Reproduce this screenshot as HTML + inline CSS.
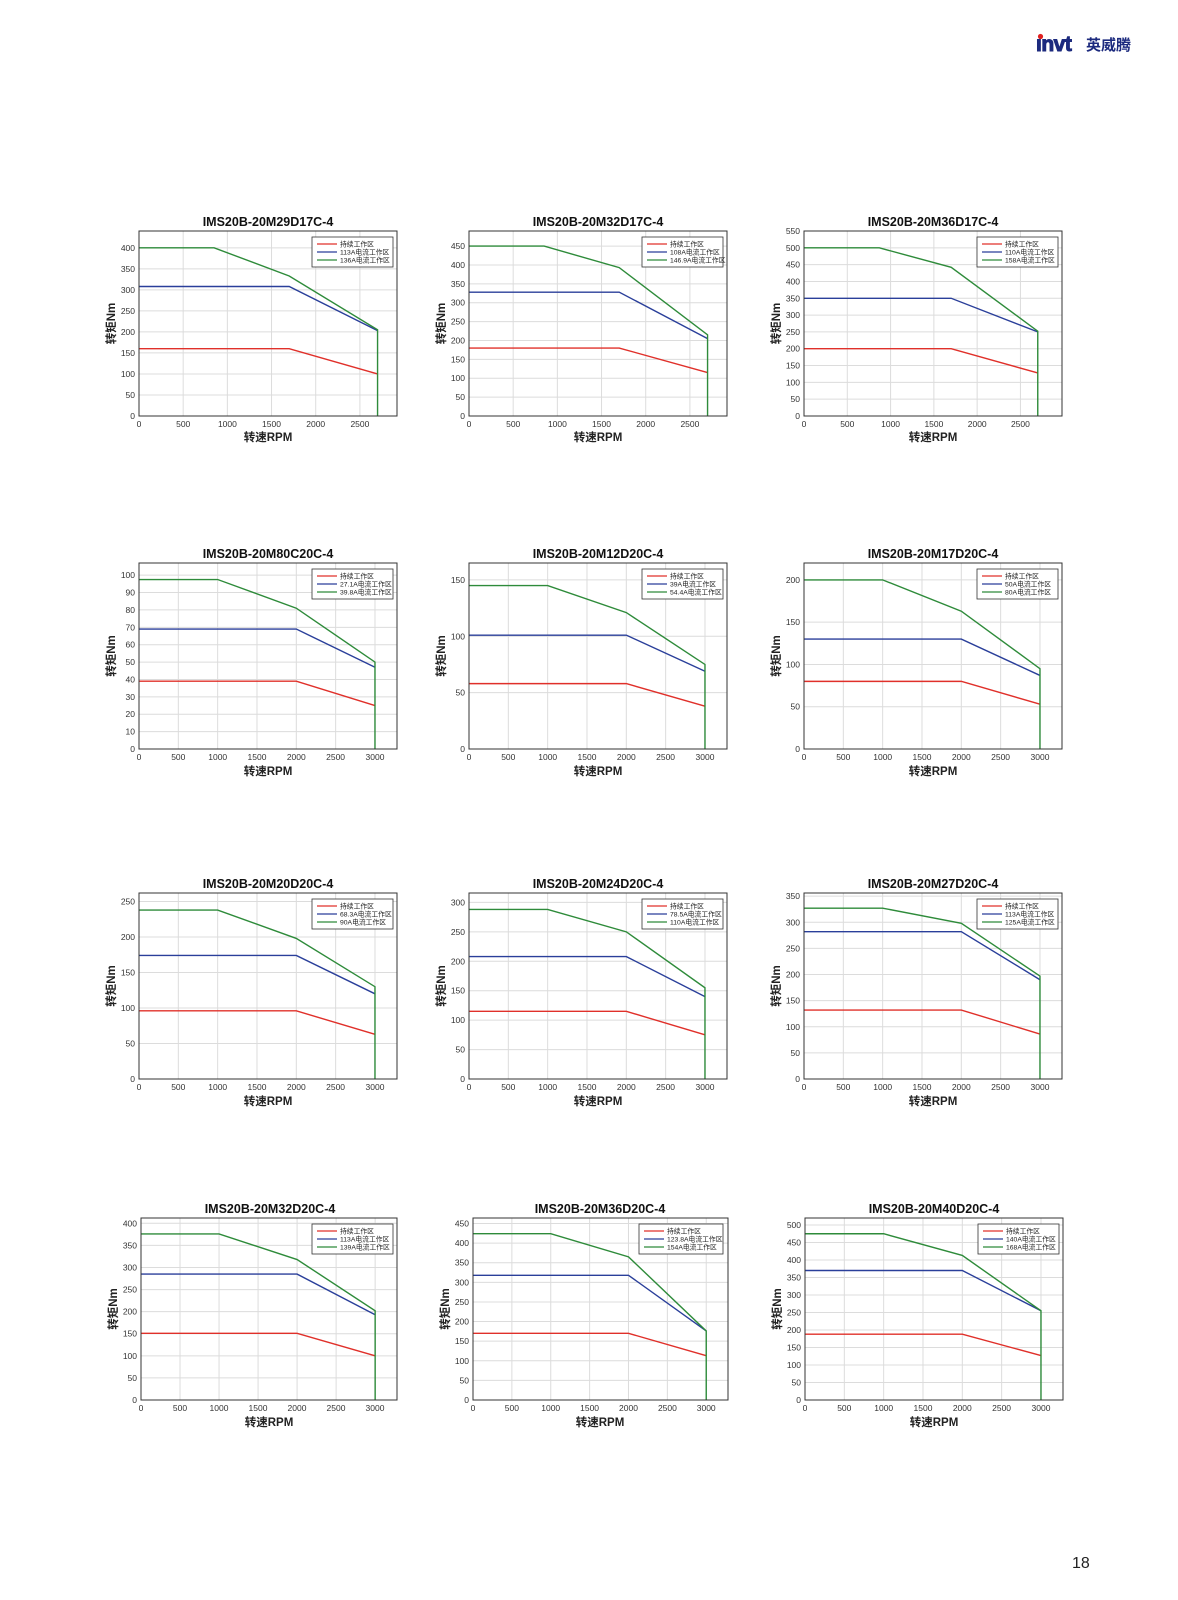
<!DOCTYPE html>
<html><head><meta charset="utf-8"><style>
html,body{margin:0;padding:0;background:#fff;}
svg{display:block;font-family:"Liberation Sans","Noto Sans CJK SC",sans-serif;}
.t{font-size:12.5px;font-weight:bold;fill:#111;text-anchor:middle}
.yl text{font-size:8.5px;fill:#333;text-anchor:end}
.xl text{font-size:8.5px;fill:#333;text-anchor:middle}
.ax{font-size:11.5px;font-weight:bold;fill:#222;text-anchor:middle}
.lg{font-size:6.8px;fill:#222}
.g{fill:none;stroke:#dcdcdc;stroke-width:1;vector-effect:non-scaling-stroke}
.r{fill:none;stroke:#e0302a;stroke-width:1.4;vector-effect:non-scaling-stroke}
.b{fill:none;stroke:#2a3f9a;stroke-width:1.4;vector-effect:non-scaling-stroke}
.gr{fill:none;stroke:#2e8b3a;stroke-width:1.4;vector-effect:non-scaling-stroke}
.box{fill:none;stroke:#333;stroke-width:1}
</style></head><body>
<svg width="1178" height="1600" viewBox="0 0 1178 1600">
<rect width="1178" height="1600" fill="#fff"/>
<!-- logo -->
<text x="1036" y="51" style="font-size:21px;font-weight:bold;fill:#1c2a7e;letter-spacing:-0.5px;stroke:#1c2a7e;stroke-width:1">ınvt</text>
<circle cx="1040.5" cy="36.5" r="2.6" fill="#e02020"/>
<text x="1086" y="50" style="font-size:15px;font-weight:bold;fill:#1c2a7e">英威腾</text>
<text x="1072" y="1568" style="font-size:16px;fill:#222">18</text>

<!-- Chart 1 -->
<g transform="translate(139,231)">
<text class="t" x="129" y="-5">IMS20B-20M29D17C-4</text>
<svg width="258" height="185" viewBox="0 -440 2920 440" preserveAspectRatio="none" overflow="visible">
<path class="g" d="M500,0V-440M1000,0V-440M1500,0V-440M2000,0V-440M2500,0V-440M0,-50H2920M0,-100H2920M0,-150H2920M0,-200H2920M0,-250H2920M0,-300H2920M0,-350H2920M0,-400H2920"/>
<polyline class="r" points="0,-160 1700,-160 2700,-100"/>
<polyline class="b" points="0,-308 1700,-308 2700,-203"/>
<polyline class="gr" points="0,-400 850,-400 1700,-333 2700,-205 2700,0"/>
</svg>
<rect class="box" x="0" y="0" width="258" height="185"/>
<g class="yl"><text x="-4" y="188">0</text><text x="-4" y="167">50</text><text x="-4" y="146">100</text><text x="-4" y="125">150</text><text x="-4" y="104">200</text><text x="-4" y="83">250</text><text x="-4" y="62">300</text><text x="-4" y="41">350</text><text x="-4" y="20">400</text></g>
<g class="xl"><text x="0" y="196">0</text><text x="44.2" y="196">500</text><text x="88.4" y="196">1000</text><text x="132.5" y="196">1500</text><text x="176.7" y="196">2000</text><text x="220.9" y="196">2500</text></g>
<text class="ax" x="129" y="210">转速RPM</text>
<text class="ax" transform="translate(-24,92.5) rotate(-90)">转矩Nm</text>
<rect x="173" y="6" width="81" height="30" fill="#fff" stroke="#333" stroke-width="0.8"/>
<line x1="178" y1="13" x2="198" y2="13" stroke="#e0302a" stroke-width="1.3"/><text class="lg" x="201" y="15.5">持续工作区</text>
<line x1="178" y1="21" x2="198" y2="21" stroke="#2a3f9a" stroke-width="1.3"/><text class="lg" x="201" y="23.5">113A电流工作区</text>
<line x1="178" y1="29" x2="198" y2="29" stroke="#2e8b3a" stroke-width="1.3"/><text class="lg" x="201" y="31.5">136A电流工作区</text>
</g>

<!-- Chart 2 -->
<g transform="translate(469,231)">
<text class="t" x="129" y="-5">IMS20B-20M32D17C-4</text>
<svg width="258" height="185" viewBox="0 -490 2920 490" preserveAspectRatio="none" overflow="visible">
<path class="g" d="M500,0V-490M1000,0V-490M1500,0V-490M2000,0V-490M2500,0V-490M0,-50H2920M0,-100H2920M0,-150H2920M0,-200H2920M0,-250H2920M0,-300H2920M0,-350H2920M0,-400H2920M0,-450H2920"/>
<polyline class="r" points="0,-180 1700,-180 2700,-115"/>
<polyline class="b" points="0,-328 1700,-328 2700,-205"/>
<polyline class="gr" points="0,-450 850,-450 1700,-393 2700,-215 2700,0"/>
</svg>
<rect class="box" x="0" y="0" width="258" height="185"/>
<g class="yl"><text x="-4" y="188">0</text><text x="-4" y="169.1">50</text><text x="-4" y="150.2">100</text><text x="-4" y="131.4">150</text><text x="-4" y="112.5">200</text><text x="-4" y="93.6">250</text><text x="-4" y="74.7">300</text><text x="-4" y="55.9">350</text><text x="-4" y="37">400</text><text x="-4" y="18.1">450</text></g>
<g class="xl"><text x="0" y="196">0</text><text x="44.2" y="196">500</text><text x="88.4" y="196">1000</text><text x="132.5" y="196">1500</text><text x="176.7" y="196">2000</text><text x="220.9" y="196">2500</text></g>
<text class="ax" x="129" y="210">转速RPM</text>
<text class="ax" transform="translate(-24,92.5) rotate(-90)">转矩Nm</text>
<rect x="173" y="6" width="81" height="30" fill="#fff" stroke="#333" stroke-width="0.8"/>
<line x1="178" y1="13" x2="198" y2="13" stroke="#e0302a" stroke-width="1.3"/><text class="lg" x="201" y="15.5">持续工作区</text>
<line x1="178" y1="21" x2="198" y2="21" stroke="#2a3f9a" stroke-width="1.3"/><text class="lg" x="201" y="23.5">108A电流工作区</text>
<line x1="178" y1="29" x2="198" y2="29" stroke="#2e8b3a" stroke-width="1.3"/><text class="lg" x="201" y="31.5">146.9A电流工作区</text>
</g>

<!-- Chart 3 -->
<g transform="translate(804,231)">
<text class="t" x="129" y="-5">IMS20B-20M36D17C-4</text>
<svg width="258" height="185" viewBox="0 -550 2980 550" preserveAspectRatio="none" overflow="visible">
<path class="g" d="M500,0V-550M1000,0V-550M1500,0V-550M2000,0V-550M2500,0V-550M0,-50H2980M0,-100H2980M0,-150H2980M0,-200H2980M0,-250H2980M0,-300H2980M0,-350H2980M0,-400H2980M0,-450H2980M0,-500H2980"/>
<polyline class="r" points="0,-200 1700,-200 2700,-128"/>
<polyline class="b" points="0,-350 1700,-350 2700,-250"/>
<polyline class="gr" points="0,-500 870,-500 1700,-442 2700,-252 2700,0"/>
</svg>
<rect class="box" x="0" y="0" width="258" height="185"/>
<g class="yl"><text x="-4" y="188">0</text><text x="-4" y="171.2">50</text><text x="-4" y="154.4">100</text><text x="-4" y="137.5">150</text><text x="-4" y="120.7">200</text><text x="-4" y="103.9">250</text><text x="-4" y="87.1">300</text><text x="-4" y="70.3">350</text><text x="-4" y="53.5">400</text><text x="-4" y="36.6">450</text><text x="-4" y="19.8">500</text><text x="-4" y="3">550</text></g>
<g class="xl"><text x="0" y="196">0</text><text x="43.3" y="196">500</text><text x="86.6" y="196">1000</text><text x="129.9" y="196">1500</text><text x="173.2" y="196">2000</text><text x="216.4" y="196">2500</text></g>
<text class="ax" x="129" y="210">转速RPM</text>
<text class="ax" transform="translate(-24,92.5) rotate(-90)">转矩Nm</text>
<rect x="173" y="6" width="81" height="30" fill="#fff" stroke="#333" stroke-width="0.8"/>
<line x1="178" y1="13" x2="198" y2="13" stroke="#e0302a" stroke-width="1.3"/><text class="lg" x="201" y="15.5">持续工作区</text>
<line x1="178" y1="21" x2="198" y2="21" stroke="#2a3f9a" stroke-width="1.3"/><text class="lg" x="201" y="23.5">110A电流工作区</text>
<line x1="178" y1="29" x2="198" y2="29" stroke="#2e8b3a" stroke-width="1.3"/><text class="lg" x="201" y="31.5">158A电流工作区</text>
</g>

<!-- Chart 4 -->
<g transform="translate(139,563)">
<text class="t" x="129" y="-5">IMS20B-20M80C20C-4</text>
<svg width="258" height="186" viewBox="0 -107 3280 107" preserveAspectRatio="none" overflow="visible">
<path class="g" d="M500,0V-107M1000,0V-107M1500,0V-107M2000,0V-107M2500,0V-107M3000,0V-107M0,-10H3280M0,-20H3280M0,-30H3280M0,-40H3280M0,-50H3280M0,-60H3280M0,-70H3280M0,-80H3280M0,-90H3280M0,-100H3280"/>
<polyline class="r" points="0,-39 2000,-39 3000,-25"/>
<polyline class="b" points="0,-69 2000,-69 3000,-47"/>
<polyline class="gr" points="0,-97.5 1000,-97.5 2000,-81 3000,-50 3000,0"/>
</svg>
<rect class="box" x="0" y="0" width="258" height="186"/>
<g class="yl"><text x="-4" y="189">0</text><text x="-4" y="171.6">10</text><text x="-4" y="154.2">20</text><text x="-4" y="136.9">30</text><text x="-4" y="119.5">40</text><text x="-4" y="102.1">50</text><text x="-4" y="84.7">60</text><text x="-4" y="67.3">70</text><text x="-4" y="50">80</text><text x="-4" y="32.6">90</text><text x="-4" y="15.2">100</text></g>
<g class="xl"><text x="0" y="197">0</text><text x="39.3" y="197">500</text><text x="78.7" y="197">1000</text><text x="118" y="197">1500</text><text x="157.3" y="197">2000</text><text x="196.6" y="197">2500</text><text x="236" y="197">3000</text></g>
<text class="ax" x="129" y="212">转速RPM</text>
<text class="ax" transform="translate(-24,93) rotate(-90)">转矩Nm</text>
<rect x="173" y="6" width="81" height="30" fill="#fff" stroke="#333" stroke-width="0.8"/>
<line x1="178" y1="13" x2="198" y2="13" stroke="#e0302a" stroke-width="1.3"/><text class="lg" x="201" y="15.5">持续工作区</text>
<line x1="178" y1="21" x2="198" y2="21" stroke="#2a3f9a" stroke-width="1.3"/><text class="lg" x="201" y="23.5">27.1A电流工作区</text>
<line x1="178" y1="29" x2="198" y2="29" stroke="#2e8b3a" stroke-width="1.3"/><text class="lg" x="201" y="31.5">39.8A电流工作区</text>
</g>

<!-- Chart 5 -->
<g transform="translate(469,563)">
<text class="t" x="129" y="-5">IMS20B-20M12D20C-4</text>
<svg width="258" height="186" viewBox="0 -165 3280 165" preserveAspectRatio="none" overflow="visible">
<path class="g" d="M500,0V-165M1000,0V-165M1500,0V-165M2000,0V-165M2500,0V-165M3000,0V-165M0,-50H3280M0,-100H3280M0,-150H3280"/>
<polyline class="r" points="0,-58 2000,-58 3000,-38"/>
<polyline class="b" points="0,-101 2000,-101 3000,-69"/>
<polyline class="gr" points="0,-145 1000,-145 2000,-121 3000,-75 3000,0"/>
</svg>
<rect class="box" x="0" y="0" width="258" height="186"/>
<g class="yl"><text x="-4" y="189">0</text><text x="-4" y="132.6">50</text><text x="-4" y="76.3">100</text><text x="-4" y="19.9">150</text></g>
<g class="xl"><text x="0" y="197">0</text><text x="39.3" y="197">500</text><text x="78.7" y="197">1000</text><text x="118" y="197">1500</text><text x="157.3" y="197">2000</text><text x="196.6" y="197">2500</text><text x="236" y="197">3000</text></g>
<text class="ax" x="129" y="212">转速RPM</text>
<text class="ax" transform="translate(-24,93) rotate(-90)">转矩Nm</text>
<rect x="173" y="6" width="81" height="30" fill="#fff" stroke="#333" stroke-width="0.8"/>
<line x1="178" y1="13" x2="198" y2="13" stroke="#e0302a" stroke-width="1.3"/><text class="lg" x="201" y="15.5">持续工作区</text>
<line x1="178" y1="21" x2="198" y2="21" stroke="#2a3f9a" stroke-width="1.3"/><text class="lg" x="201" y="23.5">39A电流工作区</text>
<line x1="178" y1="29" x2="198" y2="29" stroke="#2e8b3a" stroke-width="1.3"/><text class="lg" x="201" y="31.5">54.4A电流工作区</text>
</g>

<!-- Chart 6 -->
<g transform="translate(804,563)">
<text class="t" x="129" y="-5">IMS20B-20M17D20C-4</text>
<svg width="258" height="186" viewBox="0 -220 3280 220" preserveAspectRatio="none" overflow="visible">
<path class="g" d="M500,0V-220M1000,0V-220M1500,0V-220M2000,0V-220M2500,0V-220M3000,0V-220M0,-50H3280M0,-100H3280M0,-150H3280M0,-200H3280"/>
<polyline class="r" points="0,-80 2000,-80 3000,-53"/>
<polyline class="b" points="0,-130 2000,-130 3000,-87"/>
<polyline class="gr" points="0,-200 1000,-200 2000,-163 3000,-95 3000,0"/>
</svg>
<rect class="box" x="0" y="0" width="258" height="186"/>
<g class="yl"><text x="-4" y="189">0</text><text x="-4" y="146.7">50</text><text x="-4" y="104.5">100</text><text x="-4" y="62.2">150</text><text x="-4" y="19.9">200</text></g>
<g class="xl"><text x="0" y="197">0</text><text x="39.3" y="197">500</text><text x="78.7" y="197">1000</text><text x="118" y="197">1500</text><text x="157.3" y="197">2000</text><text x="196.6" y="197">2500</text><text x="236" y="197">3000</text></g>
<text class="ax" x="129" y="212">转速RPM</text>
<text class="ax" transform="translate(-24,93) rotate(-90)">转矩Nm</text>
<rect x="173" y="6" width="81" height="30" fill="#fff" stroke="#333" stroke-width="0.8"/>
<line x1="178" y1="13" x2="198" y2="13" stroke="#e0302a" stroke-width="1.3"/><text class="lg" x="201" y="15.5">持续工作区</text>
<line x1="178" y1="21" x2="198" y2="21" stroke="#2a3f9a" stroke-width="1.3"/><text class="lg" x="201" y="23.5">50A电流工作区</text>
<line x1="178" y1="29" x2="198" y2="29" stroke="#2e8b3a" stroke-width="1.3"/><text class="lg" x="201" y="31.5">80A电流工作区</text>
</g>

<!-- Chart 7 -->
<g transform="translate(139,893)">
<text class="t" x="129" y="-5">IMS20B-20M20D20C-4</text>
<svg width="258" height="186" viewBox="0 -262 3280 262" preserveAspectRatio="none" overflow="visible">
<path class="g" d="M500,0V-262M1000,0V-262M1500,0V-262M2000,0V-262M2500,0V-262M3000,0V-262M0,-50H3280M0,-100H3280M0,-150H3280M0,-200H3280M0,-250H3280"/>
<polyline class="r" points="0,-96 2000,-96 3000,-63"/>
<polyline class="b" points="0,-174 2000,-174 3000,-120"/>
<polyline class="gr" points="0,-238 1000,-238 2000,-198 3000,-130 3000,0"/>
</svg>
<rect class="box" x="0" y="0" width="258" height="186"/>
<g class="yl"><text x="-4" y="189">0</text><text x="-4" y="153.5">50</text><text x="-4" y="118">100</text><text x="-4" y="82.5">150</text><text x="-4" y="47">200</text><text x="-4" y="11.5">250</text></g>
<g class="xl"><text x="0" y="197">0</text><text x="39.3" y="197">500</text><text x="78.7" y="197">1000</text><text x="118" y="197">1500</text><text x="157.3" y="197">2000</text><text x="196.6" y="197">2500</text><text x="236" y="197">3000</text></g>
<text class="ax" x="129" y="212">转速RPM</text>
<text class="ax" transform="translate(-24,93) rotate(-90)">转矩Nm</text>
<rect x="173" y="6" width="81" height="30" fill="#fff" stroke="#333" stroke-width="0.8"/>
<line x1="178" y1="13" x2="198" y2="13" stroke="#e0302a" stroke-width="1.3"/><text class="lg" x="201" y="15.5">持续工作区</text>
<line x1="178" y1="21" x2="198" y2="21" stroke="#2a3f9a" stroke-width="1.3"/><text class="lg" x="201" y="23.5">68.3A电流工作区</text>
<line x1="178" y1="29" x2="198" y2="29" stroke="#2e8b3a" stroke-width="1.3"/><text class="lg" x="201" y="31.5">90A电流工作区</text>
</g>

<!-- Chart 8 -->
<g transform="translate(469,893)">
<text class="t" x="129" y="-5">IMS20B-20M24D20C-4</text>
<svg width="258" height="186" viewBox="0 -316 3280 316" preserveAspectRatio="none" overflow="visible">
<path class="g" d="M500,0V-316M1000,0V-316M1500,0V-316M2000,0V-316M2500,0V-316M3000,0V-316M0,-50H3280M0,-100H3280M0,-150H3280M0,-200H3280M0,-250H3280M0,-300H3280"/>
<polyline class="r" points="0,-115 2000,-115 3000,-75"/>
<polyline class="b" points="0,-208 2000,-208 3000,-140"/>
<polyline class="gr" points="0,-288 1000,-288 2000,-250 3000,-155 3000,0"/>
</svg>
<rect class="box" x="0" y="0" width="258" height="186"/>
<g class="yl"><text x="-4" y="189">0</text><text x="-4" y="159.6">50</text><text x="-4" y="130.1">100</text><text x="-4" y="100.7">150</text><text x="-4" y="71.3">200</text><text x="-4" y="41.8">250</text><text x="-4" y="12.4">300</text></g>
<g class="xl"><text x="0" y="197">0</text><text x="39.3" y="197">500</text><text x="78.7" y="197">1000</text><text x="118" y="197">1500</text><text x="157.3" y="197">2000</text><text x="196.6" y="197">2500</text><text x="236" y="197">3000</text></g>
<text class="ax" x="129" y="212">转速RPM</text>
<text class="ax" transform="translate(-24,93) rotate(-90)">转矩Nm</text>
<rect x="173" y="6" width="81" height="30" fill="#fff" stroke="#333" stroke-width="0.8"/>
<line x1="178" y1="13" x2="198" y2="13" stroke="#e0302a" stroke-width="1.3"/><text class="lg" x="201" y="15.5">持续工作区</text>
<line x1="178" y1="21" x2="198" y2="21" stroke="#2a3f9a" stroke-width="1.3"/><text class="lg" x="201" y="23.5">78.5A电流工作区</text>
<line x1="178" y1="29" x2="198" y2="29" stroke="#2e8b3a" stroke-width="1.3"/><text class="lg" x="201" y="31.5">110A电流工作区</text>
</g>

<!-- Chart 9 -->
<g transform="translate(804,893)">
<text class="t" x="129" y="-5">IMS20B-20M27D20C-4</text>
<svg width="258" height="186" viewBox="0 -356 3280 356" preserveAspectRatio="none" overflow="visible">
<path class="g" d="M500,0V-356M1000,0V-356M1500,0V-356M2000,0V-356M2500,0V-356M3000,0V-356M0,-50H3280M0,-100H3280M0,-150H3280M0,-200H3280M0,-250H3280M0,-300H3280M0,-350H3280"/>
<polyline class="r" points="0,-132 2000,-132 3000,-86"/>
<polyline class="b" points="0,-282 2000,-282 3000,-190"/>
<polyline class="gr" points="0,-327 1000,-327 2000,-298 3000,-197 3000,0"/>
</svg>
<rect class="box" x="0" y="0" width="258" height="186"/>
<g class="yl"><text x="-4" y="189">0</text><text x="-4" y="162.9">50</text><text x="-4" y="136.8">100</text><text x="-4" y="110.6">150</text><text x="-4" y="84.5">200</text><text x="-4" y="58.4">250</text><text x="-4" y="32.3">300</text><text x="-4" y="6.1">350</text></g>
<g class="xl"><text x="0" y="197">0</text><text x="39.3" y="197">500</text><text x="78.7" y="197">1000</text><text x="118" y="197">1500</text><text x="157.3" y="197">2000</text><text x="196.6" y="197">2500</text><text x="236" y="197">3000</text></g>
<text class="ax" x="129" y="212">转速RPM</text>
<text class="ax" transform="translate(-24,93) rotate(-90)">转矩Nm</text>
<rect x="173" y="6" width="81" height="30" fill="#fff" stroke="#333" stroke-width="0.8"/>
<line x1="178" y1="13" x2="198" y2="13" stroke="#e0302a" stroke-width="1.3"/><text class="lg" x="201" y="15.5">持续工作区</text>
<line x1="178" y1="21" x2="198" y2="21" stroke="#2a3f9a" stroke-width="1.3"/><text class="lg" x="201" y="23.5">113A电流工作区</text>
<line x1="178" y1="29" x2="198" y2="29" stroke="#2e8b3a" stroke-width="1.3"/><text class="lg" x="201" y="31.5">125A电流工作区</text>
</g>

<!-- Chart 10 -->
<g transform="translate(141,1218)">
<text class="t" x="129" y="-5">IMS20B-20M32D20C-4</text>
<svg width="256" height="182" viewBox="0 -412 3280 412" preserveAspectRatio="none" overflow="visible">
<path class="g" d="M500,0V-412M1000,0V-412M1500,0V-412M2000,0V-412M2500,0V-412M3000,0V-412M0,-50H3280M0,-100H3280M0,-150H3280M0,-200H3280M0,-250H3280M0,-300H3280M0,-350H3280M0,-400H3280"/>
<polyline class="r" points="0,-151 2000,-151 3000,-100"/>
<polyline class="b" points="0,-285 2000,-285 3000,-193"/>
<polyline class="gr" points="0,-376 1000,-376 2000,-318 3000,-202 3000,0"/>
</svg>
<rect class="box" x="0" y="0" width="256" height="182"/>
<g class="yl"><text x="-4" y="185">0</text><text x="-4" y="162.9">50</text><text x="-4" y="140.8">100</text><text x="-4" y="118.7">150</text><text x="-4" y="96.6">200</text><text x="-4" y="74.5">250</text><text x="-4" y="52.5">300</text><text x="-4" y="30.4">350</text><text x="-4" y="8.3">400</text></g>
<g class="xl"><text x="0" y="193">0</text><text x="39" y="193">500</text><text x="78" y="193">1000</text><text x="117" y="193">1500</text><text x="156" y="193">2000</text><text x="195" y="193">2500</text><text x="234" y="193">3000</text></g>
<text class="ax" x="128" y="208">转速RPM</text>
<text class="ax" transform="translate(-24,91) rotate(-90)">转矩Nm</text>
<rect x="171" y="6" width="81" height="30" fill="#fff" stroke="#333" stroke-width="0.8"/>
<line x1="176" y1="13" x2="196" y2="13" stroke="#e0302a" stroke-width="1.3"/><text class="lg" x="199" y="15.5">持续工作区</text>
<line x1="176" y1="21" x2="196" y2="21" stroke="#2a3f9a" stroke-width="1.3"/><text class="lg" x="199" y="23.5">113A电流工作区</text>
<line x1="176" y1="29" x2="196" y2="29" stroke="#2e8b3a" stroke-width="1.3"/><text class="lg" x="199" y="31.5">139A电流工作区</text>
</g>

<!-- Chart 11 -->
<g transform="translate(473,1218)">
<text class="t" x="127" y="-5">IMS20B-20M36D20C-4</text>
<svg width="255" height="182" viewBox="0 -464 3280 464" preserveAspectRatio="none" overflow="visible">
<path class="g" d="M500,0V-464M1000,0V-464M1500,0V-464M2000,0V-464M2500,0V-464M3000,0V-464M0,-50H3280M0,-100H3280M0,-150H3280M0,-200H3280M0,-250H3280M0,-300H3280M0,-350H3280M0,-400H3280M0,-450H3280"/>
<polyline class="r" points="0,-170 2000,-170 3000,-113"/>
<polyline class="b" points="0,-318 2000,-318 3000,-176"/>
<polyline class="gr" points="0,-424 1000,-424 2000,-365 3000,-176 3000,0"/>
</svg>
<rect class="box" x="0" y="0" width="255" height="182"/>
<g class="yl"><text x="-4" y="185">0</text><text x="-4" y="165.4">50</text><text x="-4" y="145.8">100</text><text x="-4" y="126.2">150</text><text x="-4" y="106.6">200</text><text x="-4" y="86.9">250</text><text x="-4" y="67.3">300</text><text x="-4" y="47.7">350</text><text x="-4" y="28.1">400</text><text x="-4" y="8.5">450</text></g>
<g class="xl"><text x="0" y="193">0</text><text x="38.9" y="193">500</text><text x="77.7" y="193">1000</text><text x="116.6" y="193">1500</text><text x="155.5" y="193">2000</text><text x="194.4" y="193">2500</text><text x="233.2" y="193">3000</text></g>
<text class="ax" x="127" y="208">转速RPM</text>
<text class="ax" transform="translate(-24,91) rotate(-90)">转矩Nm</text>
<rect x="166" y="6" width="84" height="30" fill="#fff" stroke="#333" stroke-width="0.8"/>
<line x1="171" y1="13" x2="191" y2="13" stroke="#e0302a" stroke-width="1.3"/><text class="lg" x="194" y="15.5">持续工作区</text>
<line x1="171" y1="21" x2="191" y2="21" stroke="#2a3f9a" stroke-width="1.3"/><text class="lg" x="194" y="23.5">123.8A电流工作区</text>
<line x1="171" y1="29" x2="191" y2="29" stroke="#2e8b3a" stroke-width="1.3"/><text class="lg" x="194" y="31.5">154A电流工作区</text>
</g>

<!-- Chart 12 -->
<g transform="translate(805,1218)">
<text class="t" x="129" y="-5">IMS20B-20M40D20C-4</text>
<svg width="258" height="182" viewBox="0 -520 3280 520" preserveAspectRatio="none" overflow="visible">
<path class="g" d="M500,0V-520M1000,0V-520M1500,0V-520M2000,0V-520M2500,0V-520M3000,0V-520M0,-50H3280M0,-100H3280M0,-150H3280M0,-200H3280M0,-250H3280M0,-300H3280M0,-350H3280M0,-400H3280M0,-450H3280M0,-500H3280"/>
<polyline class="r" points="0,-188 2000,-188 3000,-127"/>
<polyline class="b" points="0,-370 2000,-370 3000,-255"/>
<polyline class="gr" points="0,-475 1000,-475 2000,-413 3000,-255 3000,0"/>
</svg>
<rect class="box" x="0" y="0" width="258" height="182"/>
<g class="yl"><text x="-4" y="185">0</text><text x="-4" y="167.5">50</text><text x="-4" y="150">100</text><text x="-4" y="132.5">150</text><text x="-4" y="115">200</text><text x="-4" y="97.5">250</text><text x="-4" y="80">300</text><text x="-4" y="62.5">350</text><text x="-4" y="45">400</text><text x="-4" y="27.5">450</text><text x="-4" y="10">500</text></g>
<g class="xl"><text x="0" y="193">0</text><text x="39.3" y="193">500</text><text x="78.7" y="193">1000</text><text x="118" y="193">1500</text><text x="157.3" y="193">2000</text><text x="196.6" y="193">2500</text><text x="236" y="193">3000</text></g>
<text class="ax" x="129" y="208">转速RPM</text>
<text class="ax" transform="translate(-24,91) rotate(-90)">转矩Nm</text>
<rect x="173" y="6" width="81" height="30" fill="#fff" stroke="#333" stroke-width="0.8"/>
<line x1="178" y1="13" x2="198" y2="13" stroke="#e0302a" stroke-width="1.3"/><text class="lg" x="201" y="15.5">持续工作区</text>
<line x1="178" y1="21" x2="198" y2="21" stroke="#2a3f9a" stroke-width="1.3"/><text class="lg" x="201" y="23.5">140A电流工作区</text>
<line x1="178" y1="29" x2="198" y2="29" stroke="#2e8b3a" stroke-width="1.3"/><text class="lg" x="201" y="31.5">168A电流工作区</text>
</g>
</svg>
</body></html>
